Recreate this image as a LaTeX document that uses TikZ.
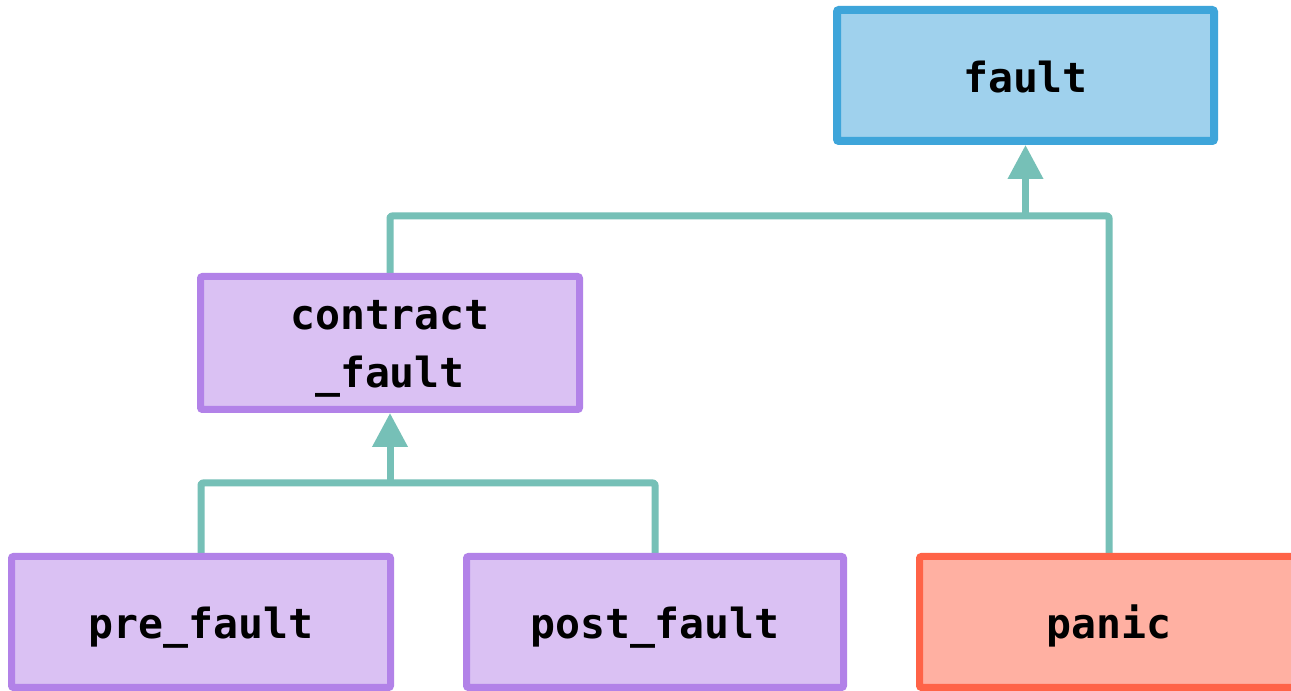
\documentclass[tikz,border=0pt]{standalone}
\usepackage{fontspec}
\setmonofont{DejaVu Sans Mono}
\usetikzlibrary{arrows.meta,backgrounds}
\definecolor{linkteal}{HTML}{76C0B7}
\definecolor{basefill}{HTML}{9FD1ED}
\definecolor{baseedge}{HTML}{3EA5DA}
\definecolor{subfill}{HTML}{DAC1F3}
\definecolor{subedge}{HTML}{B282E8}
\definecolor{panicfill}{HTML}{FFB0A2}
\definecolor{panicedge}{HTML}{FF6347}
\begin{document}
\begin{tikzpicture}[x=1pt,y=1pt,
  box/.style={draw, line width=7pt, rounded corners=2pt, inner sep=0pt,
    minimum width=379pt, minimum height=131pt,
    font=\ttfamily\bfseries\fontsize{41.5}{58}\selectfont,
    text height=40pt, text depth=6pt},
  basebox/.style={box, fill=basefill, draw=baseedge, line width=8pt, minimum width=377pt},
  subbox/.style={box, fill=subfill, draw=subedge},
  panicbox/.style={box, fill=panicfill, draw=panicedge},
  link/.style={draw=linkteal, line width=7pt, line join=round, rounded corners=2pt},
  uplink/.style={link, -{Triangle[length=34pt,width=34pt]}, fill=linkteal}]
\useasboundingbox (0,0) rectangle (1291,691);

% exception classes
\node[basebox] (fault) at (1025.5,615.5) {fault};
\node[subbox, minimum height=133pt, text height=96pt, text depth=6pt] (contract) at (390,348)
  {\begin{tabular}[b]{@{}c@{}}contract\\\_fault\end{tabular}};
\node[subbox] (pre) at (201,69) {pre\_fault};
\node[subbox, minimum width=377pt] (post) at (655,69) {post\_fault};
\node[panicbox] (panic) at (1109,69) {panic};

% inheritance joints
\coordinate (jfault) at (1025.5,475);
\coordinate (jcon) at (390,208);

\begin{scope}[on background layer]
  \fill[white] (0,0) rectangle (1291,691);
  \draw[link] (contract.north) |- (jfault) -| (panic.north);
  \draw[uplink] (jfault) -- (fault.south);
  \draw[link] (pre.north) |- (jcon) -| (post.north);
  \draw[uplink] (jcon) -- (contract.south);
\end{scope}
\end{tikzpicture}
\end{document}
